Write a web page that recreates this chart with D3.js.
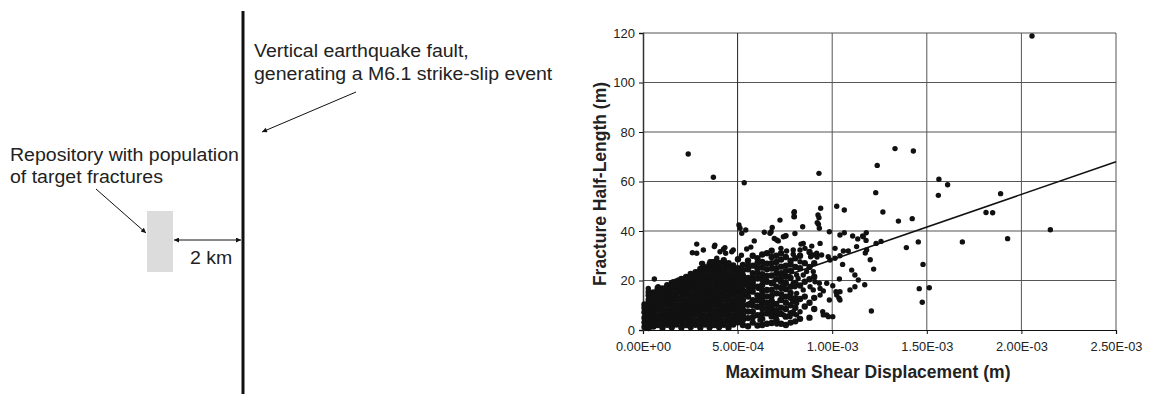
<!DOCTYPE html>
<html>
<head>
<meta charset="utf-8">
<script src="https://cdn.jsdelivr.net/npm/d3@7"></script>
<style>
  html, body { margin: 0; padding: 0; background: #fff; }
  svg { display: block; font-family: "Liberation Sans", Arial, Helvetica, sans-serif; }
</style>
</head>
<body>
<svg id="chart" width="1153" height="394"></svg>
<script>
// ---------------- data ----------------
// x values are in units of 1e-4 m (Maximum Shear Displacement), y in m (Fracture Half-Length)
const X_UNIT = 1e-4;
const xTicks = [0, 5, 10, 15, 20, 25];
const xTickLabels = ["0.00E+00", "5.00E-04", "1.00E-03", "1.50E-03", "2.00E-03", "2.50E-03"];
const yTicks = [0, 20, 40, 60, 80, 100, 120];
const xTitle = "Maximum Shear Displacement (m)";
const yTitle = "Fracture Half-Length (m)";

// dense cluster near the origin, read column by column: [x, [y...]]
const clusterColumns = [
  [0.08, [1.2, 3.1, 5.0, 7.2, 9.0, 10.3]],
  [0.30, [0.8, 2.3, 4.2, 6.1, 8.0, 9.9, 12.1, 14.0, 15.4]],
  [0.55, [1.4, 3.2, 5.1, 7.0, 9.2, 11.0, 13.1, 15.2]],
  [0.78, [2.0, 4.1, 6.0, 8.2, 10.1, 12.0, 14.1, 16.2, 17.0]],
  [1.03, [0.9, 3.0, 5.2, 7.1, 9.0, 11.2, 13.0, 15.1, 16.8]],
  [1.28, [2.1, 4.0, 6.2, 8.0, 10.2, 12.1, 14.0, 16.0, 18.1]],
  [1.52, [1.1, 3.1, 5.0, 7.2, 9.1, 11.0, 13.2, 15.0, 17.1, 19.0]],
  [1.77, [2.2, 4.1, 6.0, 8.1, 10.0, 12.2, 14.1, 16.0, 18.0, 19.6]],
  [2.03, [1.0, 3.2, 5.1, 7.0, 9.2, 11.1, 13.0, 15.2, 17.0, 19.1, 20.6]],
  [2.28, [2.0, 4.2, 6.1, 8.0, 10.1, 12.0, 14.2, 16.1, 18.0, 20.1, 21.4]],
  [2.52, [1.2, 3.0, 5.2, 7.1, 9.0, 11.2, 13.1, 15.0, 17.2, 19.0, 21.1, 22.6]],
  [2.78, [2.1, 4.0, 6.2, 8.1, 10.0, 12.1, 14.0, 16.2, 18.1, 20.0, 22.2, 23.4]],
  [3.03, [1.0, 3.1, 5.0, 7.2, 9.1, 11.0, 13.2, 15.1, 17.0, 19.2, 21.0, 23.1, 24.7]],
  [3.27, [2.2, 4.1, 6.0, 8.2, 10.1, 12.0, 14.1, 16.0, 18.2, 20.1, 22.0, 24.2, 25.4]],
  [3.52, [1.1, 3.0, 5.1, 7.0, 9.2, 11.1, 13.0, 15.2, 17.1, 19.0, 21.2, 23.0, 25.1, 26.6]],
  [3.77, [2.0, 4.2, 6.1, 8.0, 10.2, 12.1, 14.0, 16.1, 18.0, 20.2, 22.1, 24.0, 26.2, 27.5]],
  [4.02, [1.2, 3.1, 5.0, 7.1, 9.0, 11.2, 13.1, 15.0, 17.2, 19.1, 21.0, 23.2, 25.0, 27.1]],
  [4.27, [2.1, 4.0, 6.2, 8.1, 10.0, 12.2, 14.1, 16.0, 18.1, 20.0, 22.2, 24.1, 26.0, 28.2]],
  [4.52, [1.0, 3.2, 5.1, 7.0, 9.1, 11.0, 13.2, 15.1, 17.0, 19.2, 21.1, 23.0, 25.2, 27.0]],
  [4.77, [2.2, 4.1, 6.0, 8.2, 10.1, 12.0, 14.2, 16.1, 18.0, 20.1, 22.0, 24.2, 26.1]],
  [5.02, [3.1, 5.0, 7.2, 9.2, 11.1, 13.0, 15.2, 17.1, 19.0, 21.2, 23.1, 25.0, 28.6]],
  [5.28, [2.0, 4.1, 6.1, 8.2, 10.0, 12.0, 14.1, 16.0, 18.2, 20.1, 22.0, 24.1, 26.3]],
  [5.55, [1.5, 4.8, 7.5, 10.2, 13.5, 15.5, 17.8, 19.5, 21.0, 24.5, 26.0, 28.0]],
  [5.80, [3.0, 5.2, 7.5, 10.0, 12.0, 15.5, 17.3, 19.2, 21.2, 23.0, 26.0, 30.0]],
  [6.05, [1.8, 6.0, 9.4, 12.0, 14.0, 17.5, 20.8, 23.0, 25.0, 27.0, 29.0]],
  [6.30, [2.0, 4.5, 6.5, 8.8, 10.8, 12.5, 14.3, 16.0, 18.2, 20.5, 22.5, 25.2, 27.5, 30.5]],
  [6.55, [2.5, 6.7, 8.9, 11.0, 13.6, 16.2, 19.5, 21.8, 24.5, 26.8, 31.0]],
  [6.80, [2.8, 5.5, 7.5, 9.5, 11.8, 13.8, 16.2, 18.9, 22.0, 24.8, 27.0, 29.5, 32.0]],
  [7.05, [4.0, 6.0, 8.0, 10.5, 14.8, 17.5, 20.5, 22.8, 25.0, 27.5, 30.0]],
  [7.30, [2.5, 6.5, 9.0, 12.1, 14.5, 17.0, 19.5, 21.2, 23.0, 25.6, 28.5, 31.0]],
  [7.55, [2.0, 5.4, 8.5, 11.0, 13.5, 16.5, 19.0, 21.5, 23.8, 26.0, 29.5]],
  [7.80, [3.0, 6.8, 10.0, 13.0, 15.0, 17.5, 21.0, 24.0, 26.5, 28.0]],
  [8.05, [3.5, 9.0, 12.8, 19.0, 25.5, 29.0]],
  [8.30, [4.5, 12.5, 18.0, 25.0, 30.0]],
  [8.55, [9.5, 13.5, 19.5, 27.0]],
  [8.80, [5.0, 11.0, 20.5, 25.5, 31.5]],
  [9.05, [8.5, 13.0, 21.5, 27.0]]
];

// individually read scattered points: [x, y]
const scatteredPoints = [
  [2.39,71.1],[3.72,61.7],[5.35,59.5],[9.30,63.3],[12.38,66.5],[12.30,55.5],[13.32,73.3],[14.29,72.3],
  [20.56,118.8],[15.64,60.9],[16.10,58.7],[15.61,54.4],[18.90,55.1],[12.68,47.7],[18.13,47.5],[18.48,47.4],
  [13.50,44.0],[14.23,45.0],[21.53,40.5],[19.27,36.9],[16.88,35.6],[14.55,35.6],[13.92,33.3],[11.80,39.3],
  [11.61,38.0],[11.79,36.2],[12.32,35.0],[12.58,35.8],[11.75,31.1],[12.01,28.4],[12.19,24.6],[14.80,26.5],
  [11.72,18.3],[14.60,16.7],[15.13,17.1],[14.76,11.2],[12.07,7.7],
  [9.39,49.2],[10.24,50.0],[10.64,48.5],[8.00,47.8],[8.00,45.8],[8.44,41.7],[9.30,45.4],[9.27,42.7],
  [9.32,41.1],[8.03,39.0],[9.85,39.7],[10.41,38.4],[10.64,39.3],[11.08,38.0],[11.35,36.8],[11.64,37.7],
  [11.29,33.7],[8.47,35.0],[8.56,33.0],[8.30,32.3],[8.92,33.9],[9.00,30.3],[9.18,31.0],[9.36,35.0],
  [9.44,30.3],[8.86,29.6],[7.94,30.6],[8.30,27.6],[9.79,29.6],[9.88,28.3],[10.15,29.0],[10.41,30.0],
  [10.59,31.9],[10.85,31.9],[10.15,33.0],[10.55,26.5],[11.03,24.2],[11.20,22.2],[11.38,20.2],[11.20,17.5],
  [10.38,20.6],[10.03,17.9],[10.20,15.5],[10.36,12.8],[9.85,12.1],[9.50,7.4],[9.71,6.1],[10.03,5.4],
  [8.30,7.4],[8.00,6.5],[7.91,11.4],[8.12,14.8],[8.03,17.5],[9.00,16.2],[9.36,16.8],[9.53,15.8],
  [9.36,14.1],[9.32,18.9],[9.09,19.5],[8.47,22.2],[8.65,23.6],[9.00,23.6],[7.86,23.6],[8.12,22.2],
  [8.20,20.8],[9.20,29.5],[11.82,32.3],
  [5.07,42.4],[5.13,41.1],[5.43,40.4],[5.22,39.1],[5.88,36.0],[6.41,39.5],[6.83,41.4],[6.77,39.7],
  [6.94,37.0],[7.15,36.0],[7.56,38.1],[7.24,44.4],[7.98,47.4],[7.98,45.8],[3.80,34.3],[4.33,33.3],
  [5.48,32.7],[7.29,33.0],[7.59,31.9],[4.07,31.6],[4.69,31.6],[7.52,38.0],[8.35,34.7],[7.94,32.3],
  [6.71,39.1],[7.07,36.4],[7.42,37.7],[9.25,46.5],[9.21,43.4],
  [2.61,31.2],[2.84,31.0],[3.19,32.3],[3.77,33.7],[0.60,20.6],[0.90,16.8],[1.60,19.5],[1.87,20.2],
  [2.48,20.9],[2.75,22.2],[2.92,23.6],[3.10,26.9],[3.54,27.6],[3.90,29.0],[2.84,34.7],[4.25,32.6],
  [4.37,31.0],[4.77,32.3],[3.63,27.6],[3.15,26.9],[0.28,16.8],[0.80,17.5],[5.20,30.2],[5.70,33.5],
  [5.66,10.8],[6.01,9.4],[6.36,8.8],[6.71,6.7],[7.07,4.0],[7.42,6.1],[7.77,5.4],[8.12,6.1],
  [7.24,12.1],[7.59,13.5],[8.12,10.8],[7.07,14.8],[6.54,16.2],[6.10,16.8],[6.89,18.9],[7.42,17.5],
  [7.94,18.9],[8.47,16.2],[8.83,17.5],[9.71,18.9],[10.41,15.5],[10.94,16.2],[9.53,6.1],[9.80,5.4],
  [10.24,14.1],[10.41,12.1],[6.89,10.8],[7.24,6.7],[7.94,7.4],[6.18,4.0],[7.07,2.4]
];

// fitted trend line (read from the two ends)
const trendX = [0, 25];
const trendY = [2.0, 68.0];

// ---------------- drawing ----------------
const svg = d3.select("#chart");
svg.append("rect").attr("width", 1153).attr("height", 394).attr("fill", "#fff");

// markers
const defs = svg.append("defs");
defs.append("marker").attr("id", "arrow")
  .attr("viewBox", "0 0 10 10").attr("refX", 10).attr("refY", 5)
  .attr("markerWidth", 7).attr("markerHeight", 5).attr("markerUnits", "userSpaceOnUse")
  .attr("orient", "auto-start-reverse")
  .append("path").attr("d", "M0,0 L10,5 L0,10 z").attr("fill", "#111");

// stretch text horizontally (reference lettering is wider than the font)
function widen(sel, k) {
  sel.each(function () {
    const w = this.getComputedTextLength();
    d3.select(this).attr("textLength", w * k).attr("lengthAdjust", "spacingAndGlyphs");
  });
}

// ---- left schematic ----
const left = svg.append("g").attr("font-size", 17.5).attr("fill", "#222");
left.append("line").attr("x1", 243).attr("x2", 243).attr("y1", 11).attr("y2", 394)
  .attr("stroke", "#111").attr("stroke-width", 3);
left.append("text").attr("x", 254).attr("y", 57).text("Vertical earthquake fault,");
left.append("text").attr("x", 254).attr("y", 80).text("generating a M6.1 strike-slip event");
left.append("line").attr("x1", 356).attr("y1", 92).attr("x2", 262).attr("y2", 132)
  .attr("stroke", "#111").attr("stroke-width", 1).attr("marker-end", "url(#arrow)");
left.append("text").attr("x", 10).attr("y", 161).text("Repository with population");
left.append("text").attr("x", 10).attr("y", 183).text("of target fractures");
left.append("line").attr("x1", 96).attr("y1", 189).attr("x2", 146).attr("y2", 233)
  .attr("stroke", "#111").attr("stroke-width", 1).attr("marker-end", "url(#arrow)");
left.append("rect").attr("x", 147).attr("y", 211).attr("width", 26).attr("height", 61)
  .attr("fill", "#dcdcdc");
left.append("line").attr("x1", 174).attr("y1", 240).attr("x2", 241).attr("y2", 240)
  .attr("stroke", "#111").attr("stroke-width", 1)
  .attr("marker-start", "url(#arrow)").attr("marker-end", "url(#arrow)");
left.append("text").attr("x", 190).attr("y", 264).text("2 km");
widen(left.selectAll("text"), 1.115);

// ---- scatter chart ----
const x = d3.scaleLinear().domain([0, 25]).range([643, 1116]);
const y = d3.scaleLinear().domain([0, 120]).range([330, 33]);

const grid = svg.append("g");
grid.selectAll("line.h").data(yTicks.slice(1)).join("line")
  .attr("x1", x(0)).attr("x2", x(25))
  .attr("y1", d => y(d)).attr("y2", d => y(d))
  .attr("stroke", "#555").attr("stroke-width", 1);
grid.selectAll("line.v").data(xTicks.slice(1)).join("line")
  .attr("x1", d => x(d)).attr("x2", d => x(d))
  .attr("y1", y(0)).attr("y2", y(120))
  .attr("stroke", (d, i) => i === 0 ? "#222" : "#555").attr("stroke-width", 1);

const xAxis = d3.axisBottom(x).tickValues(xTicks)
  .tickFormat((d, i) => xTickLabels[i]).tickSize(4).tickPadding(8);
const gx = svg.append("g").attr("transform", `translate(0,${y(0)})`).call(xAxis);
gx.select(".domain").attr("stroke", "#111").attr("stroke-width", 1.2);
gx.selectAll(".tick line").attr("stroke", "#111");
gx.selectAll("text").attr("font-size", 12.8).attr("fill", "#222")
  .attr("font-family", "'Liberation Sans', Arial, sans-serif");

const yAxis = d3.axisLeft(y).tickValues(yTicks).tickSize(4).tickPadding(4);
const gy = svg.append("g").attr("transform", `translate(${x(0)},0)`).call(yAxis);
gy.select(".domain").attr("stroke", "#333").attr("stroke-width", 1.5);
gy.selectAll(".tick line").attr("stroke", "#111");
gy.selectAll("text").attr("font-size", 13).attr("fill", "#222")
  .attr("font-family", "'Liberation Sans', Arial, sans-serif");

// points: the dense cluster (overlapping points) and the individually read points
const clusterPoints = [];
clusterColumns.forEach(([cx, ys]) => ys.forEach(v => clusterPoints.push([cx, v])));

const dots = svg.append("g");
dots.selectAll("circle.c").data(clusterPoints).join("circle")
  .attr("cx", d => x(d[0])).attr("cy", d => y(d[1])).attr("r", 3.2)
  .attr("fill", "#111");
dots.selectAll("circle.s").data(scatteredPoints).join("circle")
  .attr("cx", d => x(d[0])).attr("cy", d => y(d[1])).attr("r", 2.7)
  .attr("fill", "#111");

// trend line
svg.append("path")
  .datum(trendX.map((v, i) => [v, trendY[i]]))
  .attr("d", d3.line().x(d => x(d[0])).y(d => y(d[1])))
  .attr("stroke", "#111").attr("stroke-width", 1.6).attr("fill", "none");

// titles
svg.append("text").attr("x", 868).attr("y", 378).attr("text-anchor", "middle")
  .attr("font-size", 17.5).attr("font-weight", "bold").attr("fill", "#222").text(xTitle);
svg.append("text").attr("transform", "translate(606,184) rotate(-90)")
  .attr("text-anchor", "middle").attr("font-size", 17.5).attr("font-weight", "bold")
  .attr("fill", "#222").text(yTitle);
</script>
</body>
</html>
